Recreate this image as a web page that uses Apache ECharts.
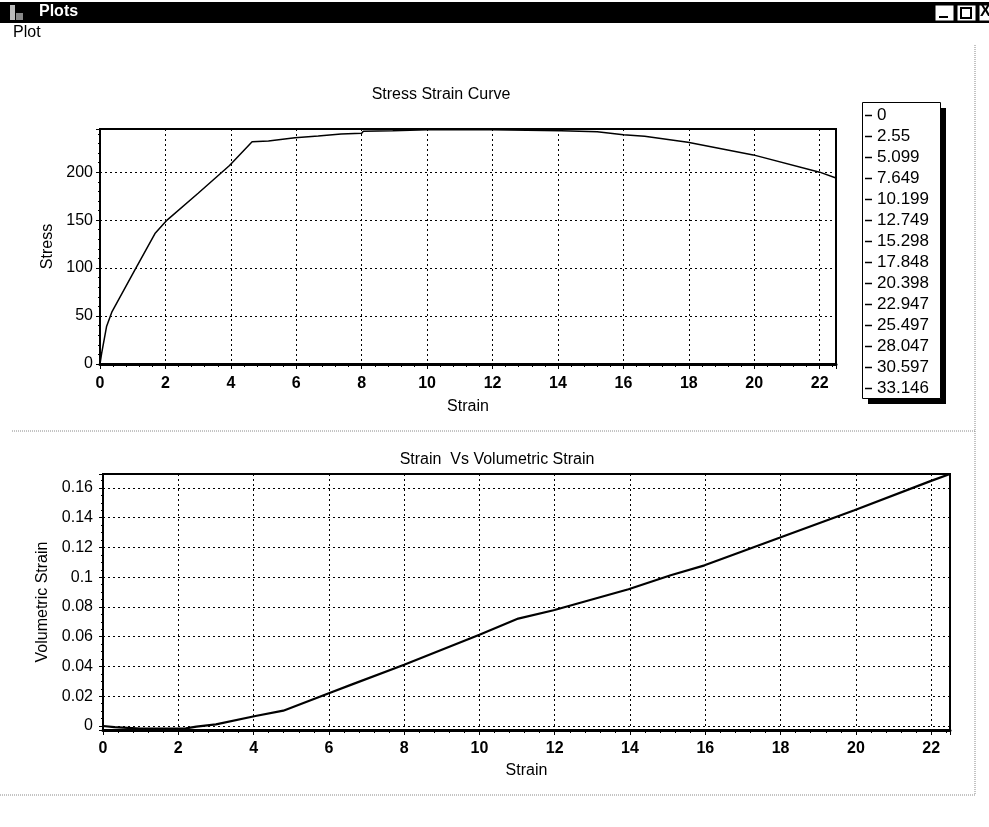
<!DOCTYPE html>
<html>
<head>
<meta charset="utf-8">
<script src="https://cdn.jsdelivr.net/npm/echarts@6.0.0/dist/echarts.min.js"></script>
<style>
    html, body { margin: 0; padding: 0; background: #fff; }
    #chart { width: 989px; height: 827px; }
</style>
</head>
<body>
<div id="chart"></div>
<script>
// Stress strain curve (top plot)
const strainTop = [0, 0.05, 0.2, 0.36, 1.0, 1.68, 2.05, 3.0, 3.96, 4.65, 5.15, 5.96, 6.67, 7.37, 8.0, 8.05, 8.95, 10.0, 12.0, 14.1, 15.2, 16.0, 16.65, 17.97, 19.97, 22.0, 22.5];
const stress = [0, 11, 39, 54, 94, 136, 150, 178, 207, 231.6, 232.6, 236, 237.8, 239.8, 240.5, 242.6, 243.3, 244.3, 244.3, 243.3, 242.2, 239.1, 237.4, 231.1, 218, 200, 194];

// Strain vs volumetric strain (bottom plot)
const strainBottom = [0, 0.3, 1.0, 2.0, 2.2, 2.48, 3.0, 4.05, 4.79, 6.0, 6.6, 8.0, 10.0, 11.03, 11.97, 13.96, 15.08, 15.98, 16.94, 17.97, 19.96, 21.98, 22.5];
const volStrain = [0, -0.0008, -0.0018, -0.0018, -0.0016, -0.0004, 0.0011, 0.0067, 0.0103, 0.022, 0.0278, 0.0412, 0.0614, 0.0722, 0.0778, 0.0919, 0.1013, 0.108, 0.117, 0.1265, 0.145, 0.1646, 0.1694];

// legend entries
const legendLabels = ["0", "2.55", "5.099", "7.649", "10.199", "12.749", "15.298", "17.848", "20.398", "22.947", "25.497", "28.047", "30.597", "33.146"];

const FONT = "'Liberation Sans', Arial, sans-serif";

let gridLine = {
    show: true,
    lineStyle: { color: "#000", width: 1, type: [2, 3] },
};

function xAxisFor(gridIndex, nameGap, labelMargin) {
    return {
        type: "value",
        gridIndex: gridIndex,
        min: 0,
        max: 22.5,
        interval: 2,
        name: "Strain",
        nameLocation: "middle",
        nameGap: nameGap,
        nameTextStyle: { color: "#000", fontSize: 16, fontFamily: FONT },
        axisLine: { show: true, onZero: false, lineStyle: { color: "#000", width: 3 } },
        axisTick: { show: true, length: 5, lineStyle: { color: "#000", width: 1 } },
        minorTick: { show: true, splitNumber: 5, length: 3, lineStyle: { color: "#000" } },
        axisLabel: {
            color: "#000", fontSize: 16, fontWeight: "bold", fontFamily: FONT,
            margin: labelMargin, showMaxLabel: false,
        },
        splitLine: gridLine,
    };
}

let chart = echarts.init(document.getElementById("chart"), null, { renderer: "canvas" });

let options = {
    animation: false,
    backgroundColor: "#fff",
    title: [
        {
            text: "Stress Strain Curve",
            left: 436,
            top: 82,
            textAlign: "center",
            textStyle: { color: "#000", fontSize: 16, fontWeight: "normal", fontFamily: FONT },
        },
        {
            text: "Strain  Vs Volumetric Strain",
            left: 492,
            top: 447,
            textAlign: "center",
            textStyle: { color: "#000", fontSize: 16, fontWeight: "normal", fontFamily: FONT },
        },
    ],
    legend: {
        data: legendLabels,
        orient: "vertical",
        left: 862,
        top: 102,
        padding: [5, 10, 2, 3],
        itemGap: 4,
        itemWidth: 7,
        itemHeight: 1.5,
        icon: "rect",
        selectedMode: false,
        itemStyle: { color: "#000", borderWidth: 0 },
        lineStyle: { width: 0 },
        textStyle: { color: "#000", fontSize: 17, fontFamily: FONT },
        z: 10,
    },
    grid: [
        { left: 100, top: 129, width: 736, height: 235, show: true, borderColor: "#000", borderWidth: 2, backgroundColor: "#fff" },
        { left: 103, top: 474, width: 847, height: 256, show: true, borderColor: "#000", borderWidth: 2, backgroundColor: "#fff" },
    ],
    xAxis: [xAxisFor(0, 35, 12), xAxisFor(1, 33, 11)],
    yAxis: [
        {
            type: "value",
            gridIndex: 0,
            min: 0,
            max: 245,
            interval: 50,
            name: "Stress",
            nameLocation: "middle",
            nameGap: 42,
            nameTextStyle: { color: "#000", fontSize: 16, fontFamily: FONT },
            axisLine: { show: true, onZero: false, lineStyle: { color: "#000", width: 2 } },
            axisTick: { show: true, length: 4, lineStyle: { color: "#000" } },
            minorTick: { show: true, splitNumber: 5, length: 2, lineStyle: { color: "#000" } },
            axisLabel: { color: "#000", fontSize: 16, fontFamily: FONT, margin: 7, showMaxLabel: false },
            splitLine: gridLine,
        },
        {
            type: "value",
            gridIndex: 1,
            min: -0.0027,
            max: 0.1694,
            minInterval: 0.02,
            maxInterval: 0.02,
            name: "Volumetric Strain",
            nameLocation: "middle",
            nameGap: 44,
            nameTextStyle: { color: "#000", fontSize: 16, fontFamily: FONT },
            axisLine: { show: true, onZero: false, lineStyle: { color: "#000", width: 2 } },
            axisTick: { show: true, length: 4, lineStyle: { color: "#000" } },
            minorTick: { show: true, splitNumber: 4, length: 2, lineStyle: { color: "#000" } },
            axisLabel: {
                color: "#000", fontSize: 16, fontFamily: FONT, margin: 10,
                showMinLabel: false, showMaxLabel: false,
                formatter: (v) => Math.abs(v) < 1e-9 ? "0" : parseFloat(v.toFixed(2)).toString(),
            },
            splitLine: gridLine,
        },
    ],
    graphic: [
        // window title bar
        { type: "rect", shape: { x: 0, y: 2, width: 989, height: 21 }, style: { fill: "#000" } },
        { type: "rect", shape: { x: 10, y: 5, width: 5, height: 15 }, style: { fill: "#bbb" } },
        { type: "rect", shape: { x: 16, y: 13, width: 7, height: 7 }, style: { fill: "#888" } },
        { type: "text", x: 39, y: 4, style: { text: "Plots", fill: "#fff", font: "bold 16px " + FONT } },
        { type: "rect", shape: { x: 935, y: 5, width: 19, height: 16 }, style: { fill: "#fff", stroke: "#000" } },
        { type: "rect", shape: { x: 939, y: 16, width: 9, height: 2 }, style: { fill: "#000" } },
        { type: "rect", shape: { x: 957, y: 5, width: 19, height: 16 }, style: { fill: "#fff", stroke: "#000" } },
        { type: "rect", shape: { x: 961, y: 8, width: 10, height: 10 }, style: { fill: "none", stroke: "#000", lineWidth: 2 } },
        { type: "rect", shape: { x: 979, y: 5, width: 12, height: 16 }, style: { fill: "#fff", stroke: "#000" } },
        { type: "text", x: 980, y: 4, style: { text: "X", fill: "#000", font: "bold 16px " + FONT } },
        // menu
        { type: "text", x: 13, y: 25, style: { text: "Plot", fill: "#000", font: "16px " + FONT } },
        // panel separators
        { type: "line", shape: { x1: 12, y1: 431, x2: 975, y2: 431 }, style: { stroke: "#888", lineWidth: 1, lineDash: [1, 1] } },
        { type: "line", shape: { x1: 975, y1: 45, x2: 975, y2: 795 }, style: { stroke: "#888", lineWidth: 1, lineDash: [1, 1] } },
        { type: "line", shape: { x1: 0, y1: 795, x2: 975, y2: 795 }, style: { stroke: "#888", lineWidth: 1, lineDash: [1, 1] } },
        // legend frame with drop shadow
        { type: "rect", z: 1, shape: { x: 868, y: 108, width: 78, height: 296 }, style: { fill: "#000" } },
        { type: "rect", z: 2, shape: { x: 862.5, y: 102.5, width: 78, height: 296 }, style: { fill: "#fff", stroke: "#000", lineWidth: 1 } },
    ],
    series: [
        {
            name: "Stress",
            type: "line",
            xAxisIndex: 0,
            yAxisIndex: 0,
            data: strainTop.map((x, i) => [x, stress[i]]),
            showSymbol: false,
            lineStyle: { color: "#000", width: 1.5 },
            itemStyle: { color: "#000" },
            z: 5,
        },
        {
            name: "Volumetric Strain",
            type: "line",
            xAxisIndex: 1,
            yAxisIndex: 1,
            data: strainBottom.map((x, i) => [x, volStrain[i]]),
            showSymbol: false,
            lineStyle: { color: "#000", width: 2.2 },
            itemStyle: { color: "#000" },
            z: 5,
        },
    ],
};

// legend series, no points of their own
for (let label of legendLabels) {
    options.series.push({
        name: label,
        type: "line",
        xAxisIndex: 0,
        yAxisIndex: 0,
        data: [],
        showSymbol: false,
        itemStyle: { color: "#000" },
        lineStyle: { color: "#000" },
    });
}

chart.setOption(options);
</script>
</body>
</html>
